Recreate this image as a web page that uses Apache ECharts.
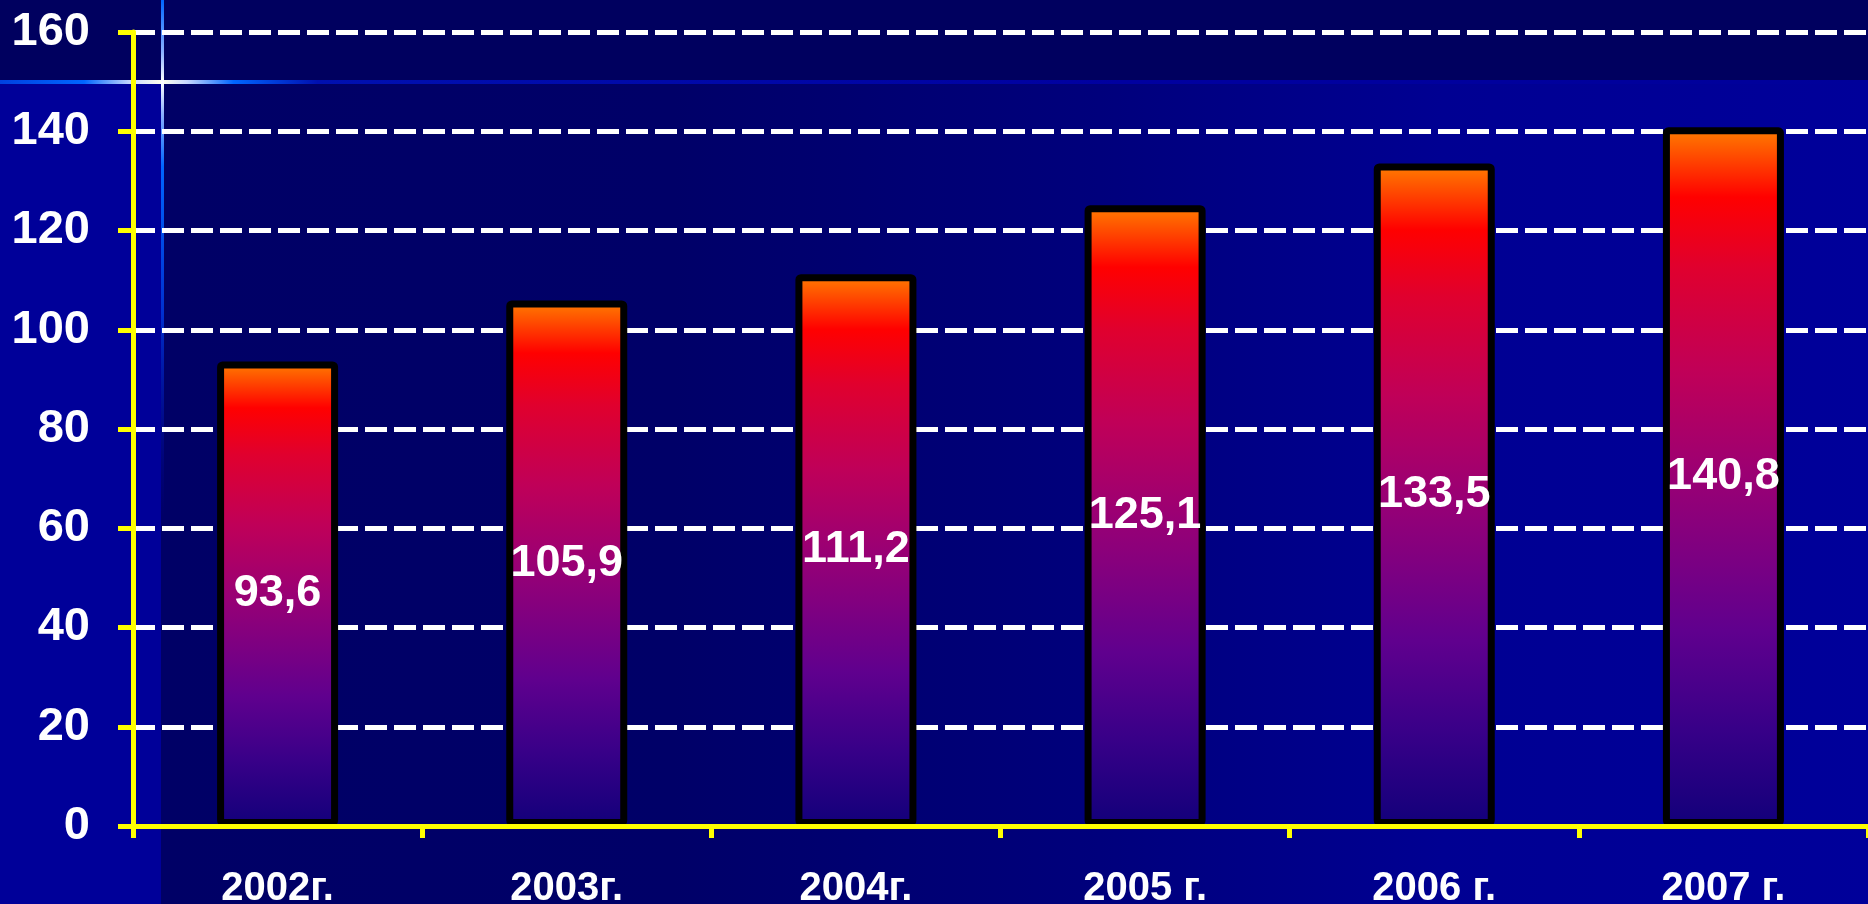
<!DOCTYPE html>
<html>
<head>
<meta charset="utf-8">
<script src="https://cdn.jsdelivr.net/npm/echarts@6/dist/echarts.min.js"></script>
<style>
html,body{margin:0;padding:0;background:#000066;}
#c{width:1868px;height:904px;}
</style>
</head>
<body>
<div id="c"></div>
<script>
const categories = ['2002г.', '2003г.', '2004г.', '2005 г.', '2006 г.', '2007 г.'];
const values = [93.6, 105.9, 111.2, 125.1, 133.5, 140.8];
const yMin = 0, yMax = 160, yStep = 20;

const W = 1868, H = 904;
const font = '"Liberation Sans", Arial, sans-serif';
const chart = echarts.init(document.getElementById('c'), null, {renderer: 'canvas'});

const barGradient = {
  type: 'linear', x: 0, y: 0, x2: 0, y2: 1,
  colorStops: [
    {offset: 0, color: '#ff8000'},
    {offset: 0.1, color: '#ff0000'},
    {offset: 0.2, color: '#e0002e'},
    {offset: 0.35, color: '#c00058'},
    {offset: 0.5, color: '#9a0074'},
    {offset: 0.6, color: '#800080'},
    {offset: 0.72, color: '#60008e'},
    {offset: 0.86, color: '#380088'},
    {offset: 1, color: '#12007a'}
  ]
};

chart.setOption({
  backgroundColor: '#000066',
  animation: false,
  graphic: [
    {type: 'rect', z: -100, silent: true, shape: {x: 161, y: 0, width: W - 161, height: H},
      style: {fill: {type: 'linear', x: 0, y: 0, x2: 1, y2: 0, colorStops: [
        {offset: 0, color: '#000066'}, {offset: 0.3, color: '#000068'},
        {offset: 0.55, color: '#00007c'}, {offset: 0.75, color: '#000092'},
        {offset: 1, color: '#00009a'}]}}},
    {type: 'rect', z: -99, silent: true, shape: {x: 0, y: 82, width: 161, height: H - 82},
      style: {fill: '#000099'}},
    {type: 'rect', z: -98, silent: true, shape: {x: 0, y: 0, width: W, height: 82},
      style: {fill: '#00005f'}},
    {type: 'rect', z: -97, silent: true, shape: {x: 0, y: 80, width: W, height: 4},
      style: {fill: {type: 'linear', x: 0, y: 0, x2: 1, y2: 0, colorStops: [
        {offset: 0, color: '#0040e0'}, {offset: 0.045, color: '#0066ff'},
        {offset: 0.07, color: '#c8d8ff'}, {offset: 0.087, color: '#ffffee'},
        {offset: 0.1, color: '#c8d8ff'}, {offset: 0.125, color: '#0066ff'},
        {offset: 0.17, color: '#0010b0'}, {offset: 0.6, color: '#0000a0'},
        {offset: 1, color: '#00009a'}]}}},
    {type: 'rect', z: -96, silent: true, shape: {x: 161, y: 0, width: 3, height: 520},
      style: {fill: {type: 'linear', x: 0, y: 0, x2: 0, y2: 1, colorStops: [
        {offset: 0, color: '#0066ff'}, {offset: 0.1, color: '#8ab0ff'},
        {offset: 0.158, color: '#ffffff'}, {offset: 0.22, color: '#8ab0ff'},
        {offset: 0.32, color: '#0066ff'}, {offset: 0.6, color: '#0030d0'},
        {offset: 1, color: 'rgba(0,0,153,0)'}]}}}
  ],
  grid: {left: 133, right: 0, top: 32, bottom: 78, containLabel: false, outerBoundsMode: 'none'},
  xAxis: {
    type: 'category',
    data: categories,
    z: 5,
    axisLine: {show: true, lineStyle: {color: '#ffff00', width: 5}},
    axisTick: {show: true, alignWithLabel: false, length: 12, lineStyle: {color: '#ffff00', width: 5}},
    axisLabel: {color: '#ffffff', fontWeight: 'bold', fontSize: 40, fontFamily: font, margin: 43},
    splitLine: {show: false}
  },
  yAxis: {
    type: 'value',
    min: yMin, max: yMax, interval: yStep,
    z: 0,
    axisLine: {show: true, lineStyle: {color: '#ffff00', width: 5}},
    axisTick: {show: true, length: 15, lineStyle: {color: '#ffff00', width: 5}},
    axisLabel: {color: '#ffffff', fontWeight: 'bold', fontSize: 47, fontFamily: font, margin: 43},
    splitLine: {show: true, lineStyle: {color: '#ffffff', width: 5, type: [22, 7]}}
  },
  series: [{
    type: 'bar',
    data: values,
    barWidth: 121,
    z: 2,
    itemStyle: {color: barGradient, borderColor: '#000000', borderWidth: 7, borderRadius: 2},
    label: {
      show: true, position: 'inside', color: '#ffffff', fontWeight: 'bold',
      fontSize: 45, fontFamily: font,
      formatter: p => String(p.value).replace('.', ',')
    }
  }]
});
</script>
</body>
</html>
